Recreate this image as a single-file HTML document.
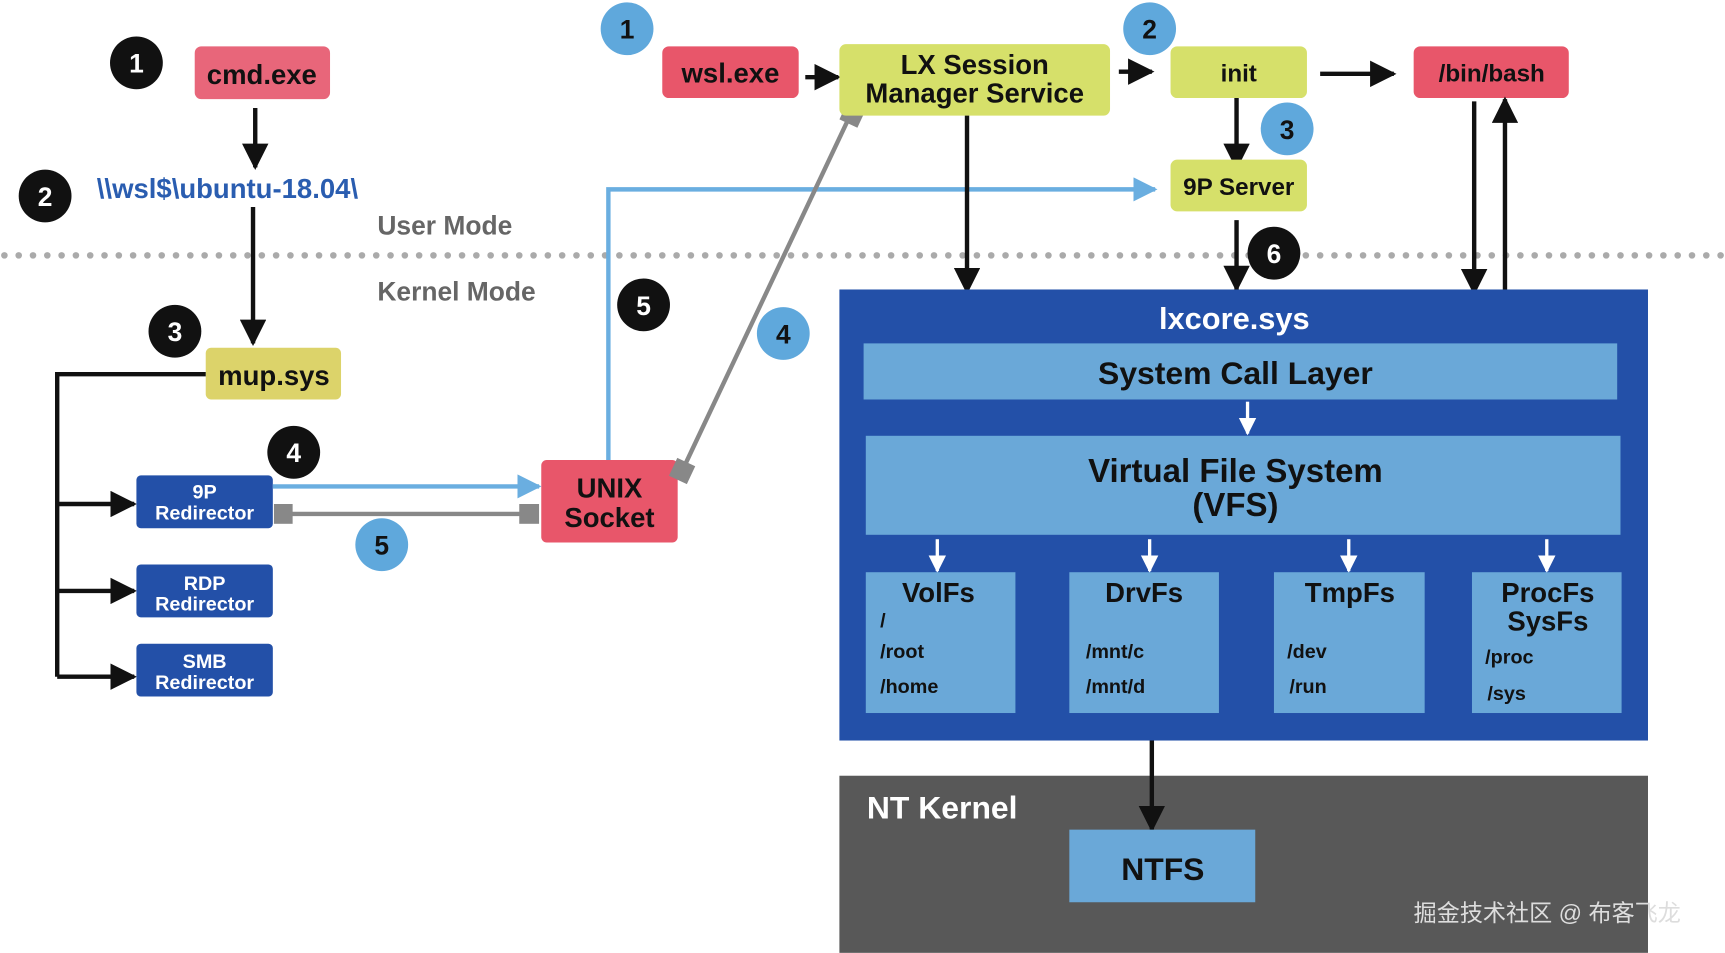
<!DOCTYPE html>
<html><head><meta charset="utf-8"><style>
html,body{margin:0;padding:0;background:#fff;width:1725px;height:953px;overflow:hidden}
text{font-family:"Liberation Sans","Noto Sans CJK SC",sans-serif;font-weight:bold}
</style></head><body>
<svg width="1725" height="953" viewBox="0 0 1568 866" xmlns="http://www.w3.org/2000/svg">
<defs>
<marker id="abk" viewBox="0 0 10 10" refX="9" refY="5" markerWidth="24" markerHeight="24" orient="auto" markerUnits="userSpaceOnUse"><path d="M0,0 L10,5 L0,10z" fill="#111"/></marker>
<marker id="abl" viewBox="0 0 10 10" refX="9" refY="5" markerWidth="22" markerHeight="22" orient="auto" markerUnits="userSpaceOnUse"><path d="M0,0 L10,5 L0,10z" fill="#6aaee0"/></marker>
<marker id="aw" viewBox="0 0 10 10" refX="9" refY="5" markerWidth="16" markerHeight="16" orient="auto" markerUnits="userSpaceOnUse"><path d="M0,0 L10,5 L0,10z" fill="#fff"/></marker>
</defs>
<line x1="4" y1="232" x2="1568" y2="232" stroke="#aaa" stroke-width="6" stroke-dasharray="0 13" stroke-linecap="round"/>
<text x="343" y="213" font-size="24" fill="#666">User Mode</text>
<text x="343" y="273" font-size="24" fill="#666">Kernel Mode</text>

<rect x="177" y="42" width="123" height="48" rx="6" fill="#e8667a"/>
<text x="238" y="76" font-size="25" text-anchor="middle" fill="#111">cmd.exe</text>
<line x1="232" y1="98" x2="232" y2="152" stroke="#111" stroke-width="4" marker-end="url(#abk)"/>
<text x="88" y="180" font-size="25" fill="#2a5db0">\\wsl$\ubuntu-18.04\</text>
<line x1="230" y1="188" x2="230" y2="312" stroke="#111" stroke-width="4" marker-end="url(#abk)"/>
<rect x="187" y="316" width="123" height="47" rx="5" fill="#dcd36a"/>
<text x="249" y="350" font-size="25" text-anchor="middle" fill="#111">mup.sys</text>
<polyline points="187,340 52,340 52,615" fill="none" stroke="#111" stroke-width="4"/>
<line x1="52" y1="458" x2="122" y2="458" stroke="#111" stroke-width="4" marker-end="url(#abk)"/>
<line x1="52" y1="537" x2="122" y2="537" stroke="#111" stroke-width="4" marker-end="url(#abk)"/>
<line x1="52" y1="615" x2="122" y2="615" stroke="#111" stroke-width="4" marker-end="url(#abk)"/>
<g fill="#2350a8"><rect x="124" y="432" width="124" height="48" rx="4"/><rect x="124" y="513" width="124" height="48" rx="4"/><rect x="124" y="585" width="124" height="48" rx="4"/></g>
<g font-size="18" fill="#fff" text-anchor="middle">
<text x="186" y="453">9P</text><text x="186" y="472">Redirector</text>
<text x="186" y="536">RDP</text><text x="186" y="555">Redirector</text>
<text x="186" y="607">SMB</text><text x="186" y="626">Redirector</text></g>
<line x1="248" y1="442" x2="490" y2="442" stroke="#6aaee0" stroke-width="4" marker-end="url(#abl)"/>
<line x1="256" y1="467" x2="482" y2="467" stroke="#888" stroke-width="4"/>
<rect x="249" y="458" width="17" height="18" fill="#888"/><rect x="472" y="458" width="18" height="18" fill="#888"/>
<rect x="492" y="418" width="124" height="75" rx="5" fill="#e8566a"/>
<text x="554" y="452" font-size="25" text-anchor="middle" fill="#111">UNIX</text>
<text x="554" y="479" font-size="25" text-anchor="middle" fill="#111">Socket</text>
<polyline points="553,418 553,172 1050,172" fill="none" stroke="#6aaee0" stroke-width="4" marker-end="url(#abl)"/>
<line x1="620" y1="428" x2="775" y2="100" stroke="#888" stroke-width="4"/>
<rect x="611" y="419" width="18" height="18" fill="#888" transform="rotate(25 620 428)"/>
<rect x="766" y="95" width="18" height="18" fill="#888" transform="rotate(25 775 104)"/>

<rect x="602" y="42" width="124" height="47" rx="6" fill="#e8566a"/>
<text x="664" y="75" font-size="25" text-anchor="middle" fill="#111">wsl.exe</text>
<line x1="732" y1="70" x2="762" y2="70" stroke="#111" stroke-width="4" marker-end="url(#abk)"/>
<rect x="763" y="40" width="246" height="65" rx="6" fill="#d6e06a"/>
<text x="886" y="67" font-size="25" text-anchor="middle" fill="#111">LX Session</text>
<text x="886" y="93" font-size="25" text-anchor="middle" fill="#111">Manager Service</text>
<line x1="1017" y1="65" x2="1047" y2="65" stroke="#111" stroke-width="4" marker-end="url(#abk)"/>
<rect x="1064" y="42" width="124" height="47" rx="6" fill="#d6e06a"/>
<text x="1126" y="74" font-size="22" text-anchor="middle" fill="#111">init</text>
<line x1="1200" y1="67" x2="1267" y2="67" stroke="#111" stroke-width="4" marker-end="url(#abk)"/>
<rect x="1285" y="42" width="141" height="47" rx="6" fill="#e8566a"/>
<text x="1356" y="74" font-size="22" text-anchor="middle" fill="#111">/bin/bash</text>
<line x1="1124" y1="89" x2="1124" y2="152" stroke="#111" stroke-width="4" marker-end="url(#abk)"/>
<rect x="1064" y="145" width="124" height="47" rx="6" fill="#d6e06a"/>
<text x="1126" y="177" font-size="22" text-anchor="middle" fill="#111">9P Server</text>
<line x1="1124" y1="200" x2="1124" y2="263" stroke="#111" stroke-width="4" marker-end="url(#abk)"/>
<line x1="879" y1="105" x2="879" y2="265" stroke="#111" stroke-width="4" marker-end="url(#abk)"/>
<line x1="1340" y1="92" x2="1340" y2="266" stroke="#111" stroke-width="4" marker-end="url(#abk)"/>
<line x1="1368" y1="265" x2="1368" y2="90" stroke="#111" stroke-width="4" marker-end="url(#abk)"/>

<rect x="763" y="263" width="735" height="410" fill="#2350a8"/>
<text x="1122" y="299" font-size="28" text-anchor="middle" fill="#fff">lxcore.sys</text>
<rect x="785" y="312" width="685" height="51" fill="#6aa8d8"/>
<text x="1123" y="349" font-size="29" text-anchor="middle" fill="#111">System Call Layer</text>
<line x1="1134" y1="365" x2="1134" y2="394" stroke="#fff" stroke-width="3" marker-end="url(#aw)"/>
<rect x="787" y="396" width="686" height="90" fill="#6aa8d8"/>
<text x="1123" y="438" font-size="30" text-anchor="middle" fill="#111">Virtual File System</text>
<text x="1123" y="469" font-size="30" text-anchor="middle" fill="#111">(VFS)</text>
<g stroke="#fff" stroke-width="3">
<line x1="852" y1="490" x2="852" y2="519" marker-end="url(#aw)"/>
<line x1="1045" y1="490" x2="1045" y2="519" marker-end="url(#aw)"/>
<line x1="1226" y1="490" x2="1226" y2="519" marker-end="url(#aw)"/>
<line x1="1406" y1="490" x2="1406" y2="519" marker-end="url(#aw)"/></g>
<g fill="#6aa8d8"><rect x="787" y="520" width="136" height="128"/><rect x="972" y="520" width="136" height="128"/><rect x="1158" y="520" width="137" height="128"/><rect x="1338" y="520" width="136" height="128"/></g>
<g fill="#111">
<text x="853" y="547" font-size="25" text-anchor="middle">VolFs</text>
<text x="800" y="570" font-size="18">/</text><text x="800" y="598" font-size="18">/root</text><text x="800" y="630" font-size="18">/home</text>
<text x="1040" y="547" font-size="25" text-anchor="middle">DrvFs</text>
<text x="987" y="598" font-size="18">/mnt/c</text><text x="987" y="630" font-size="18">/mnt/d</text>
<text x="1227" y="547" font-size="25" text-anchor="middle">TmpFs</text>
<text x="1170" y="598" font-size="18">/dev</text><text x="1172" y="630" font-size="18">/run</text>
<text x="1407" y="547" font-size="25" text-anchor="middle">ProcFs</text>
<text x="1407" y="573" font-size="25" text-anchor="middle">SysFs</text>
<text x="1350" y="603" font-size="18">/proc</text><text x="1352" y="636" font-size="18">/sys</text></g>

<rect x="763" y="705" width="735" height="161" fill="#585858"/>
<text x="788" y="744" font-size="29" fill="#fff">NT Kernel</text>
<line x1="1047" y1="673" x2="1047" y2="754" stroke="#111" stroke-width="4" marker-end="url(#abk)"/>
<rect x="972" y="754" width="169" height="66" fill="#6aa8d8"/>
<text x="1057" y="800" font-size="29" text-anchor="middle" fill="#111">NTFS</text>
<text x="1285" y="837" font-size="21" fill="#ddd" style="font-weight:normal">掘金技术社区 @ 布客飞龙</text>

<g fill="#111"><circle cx="124" cy="57" r="24"/><circle cx="41" cy="178" r="24"/><circle cx="159" cy="301" r="24"/><circle cx="267" cy="411" r="24"/><circle cx="585" cy="277" r="24"/><circle cx="1158" cy="230" r="24"/></g>
<g fill="#5fa8dc"><circle cx="570" cy="26" r="24"/><circle cx="1045" cy="26" r="24"/><circle cx="1170" cy="117" r="24"/><circle cx="712" cy="303" r="24"/><circle cx="347" cy="495" r="24"/></g>
<g font-size="24" text-anchor="middle" fill="#fff">
<text x="124" y="66">1</text><text x="41" y="187">2</text><text x="159" y="310">3</text><text x="267" y="420">4</text><text x="585" y="286">5</text><text x="1158" y="239">6</text></g>
<g font-size="24" text-anchor="middle" fill="#111">
<text x="570" y="35">1</text><text x="1045" y="35">2</text><text x="1170" y="126">3</text><text x="712" y="312">4</text><text x="347" y="504">5</text></g>
</svg>
</body></html>
